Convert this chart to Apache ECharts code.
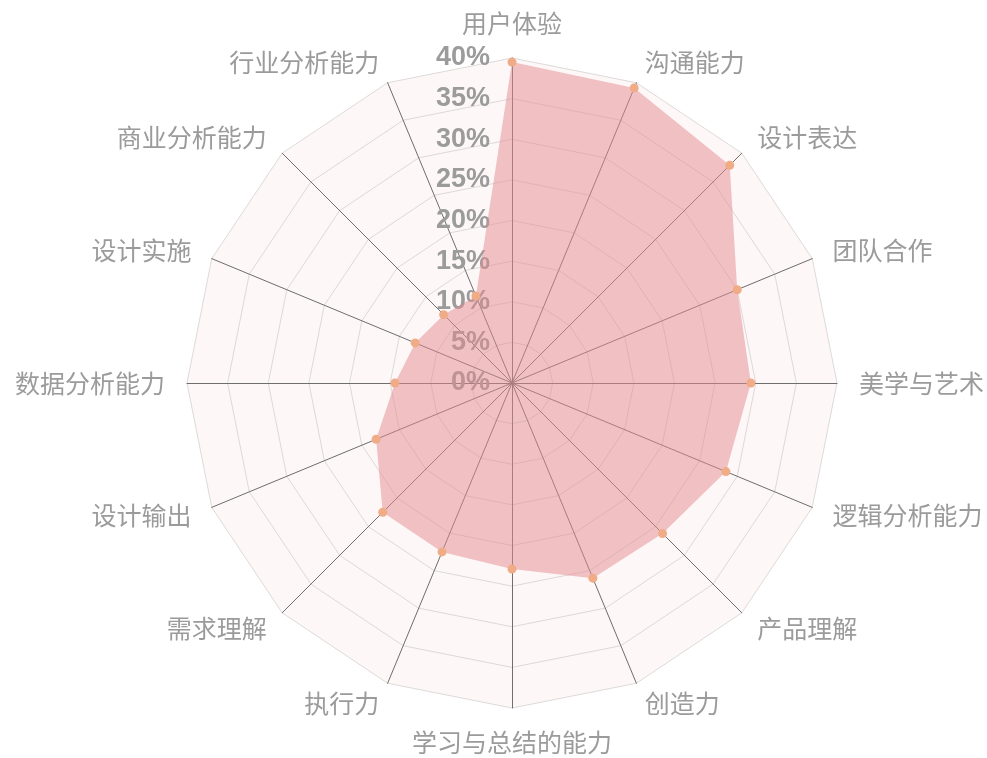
<!DOCTYPE html>
<html>
<head>
<meta charset="utf-8">
<script src="https://cdn.jsdelivr.net/npm/echarts@6/dist/echarts.min.js"></script>
<style>
  html, body { margin: 0; padding: 0; background: #ffffff; }
  #chart { width: 987px; height: 758px; }
</style>
</head>
<body>
<div id="chart"></div>
<script>
// Skills, listed clockwise starting from the top
var skills = [
  '用户体验', '沟通能力', '设计表达', '团队合作', '美学与艺术', '逻辑分析能力',
  '产品理解', '创造力', '学习与总结的能力', '执行力', '需求理解', '设计输出',
  '数据分析能力', '设计实施', '商业分析能力', '行业分析能力'
];
// Share of each skill (%), same order as skills
var shares = [
  39.5, 39.3, 37.9, 30.0, 29.4, 28.5,
  26.2, 26.0, 22.9, 22.5, 22.5, 18.1,
  14.4, 12.9, 11.9, 11.6
];
var scaleMax = 40;

// The radar lays indicators out counter-clockwise, so keep the first
// one on top and walk the rest backwards.
var order = [0];
for (var i = skills.length - 1; i >= 1; i--) order.push(i);

var indicators = order.map(function (k, j) {
  var ind = { name: skills[k], min: 0, max: scaleMax };
  if (j === 0) {
    ind.axisLabel = {
      show: true,
      formatter: function (v) { return v + '%'; },
      color: '#9b9b9b',
      fontSize: 27,
      fontWeight: 'bold',
      fontFamily: 'Liberation Sans, Arial, sans-serif',
      margin: 22
    };
  }
  return ind;
});
var values = order.map(function (k) { return shares[k]; });

var chart = echarts.init(document.getElementById('chart'), null, { renderer: 'canvas' });
chart.setOption({
  animation: false,
  backgroundColor: '#ffffff',
  radar: {
    center: [512, 383],
    radius: 325,
    startAngle: 90,
    splitNumber: 8,
    shape: 'polygon',
    nameGap: 22,
    axisName: {
      color: '#9b9b9b',
      fontSize: 25,
      fontFamily: 'Noto Sans CJK SC, sans-serif'
    },
    axisLine: { lineStyle: { color: '#6e6e6e', width: 1 } },
    axisTick: { show: false },
    axisLabel: { show: false },
    splitLine: { lineStyle: { color: '#dedada', width: 1 } },
    splitArea: { areaStyle: { color: ['#fdf7f7'] } },
    indicator: indicators
  },
  series: [{
    type: 'radar',
    symbol: 'circle',
    symbolSize: 9,
    itemStyle: { color: '#f0ac86' },
    lineStyle: { width: 0, opacity: 0 },
    areaStyle: { color: '#e38a8f', opacity: 0.5 },
    data: [{ value: values, name: '技能' }]
  }]
});
</script>
</body>
</html>
